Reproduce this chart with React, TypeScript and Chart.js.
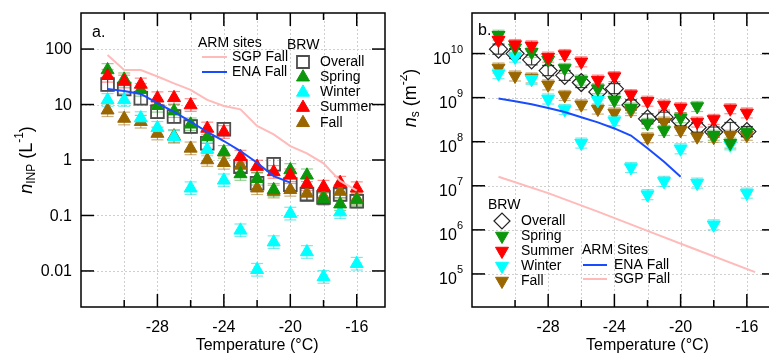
import React, { useEffect, useRef } from 'react';
import { Chart, registerables } from 'chart.js';
import { drawPoint } from 'chart.js/helpers';

Chart.register(...registerables);

// ---------- shared ----------
const TEMPS = [-31, -30, -29, -28, -27, -26, -25, -24, -23, -22, -21, -20, -19, -18, -17, -16];
const X_TICKS = [-28, -24, -20, -16];
const X_MINOR = [-30, -26, -22, -18];
const X_GRID = [-30, -28, -26, -24, -22, -20, -18, -16];

// ---------- panel a: n_INP (L^-1) ----------
const A_OVERALL = [23, 19, 13, 7.4, 6.1, 4.0, 2.0, 3.6, 0.76, 0.38, 0.84, 0.36, 0.24, 0.21, 0.24, 0.18];
const A_SPRING = [42, 28.5, 18.4, 9.5, 7.6, 4.4, 2.6, 1.4, 0.56, 0.46, 0.29, 0.66, 0.53, 0.2, 0.16, 0.19];
const A_SUMMER = [33, 26, 23, 13, 13.2, 9.8, 3.7, 3.2, 1.15, 0.76, 0.61, 0.53, 0.37, 0.33, 0.39, 0.31];
const A_WINTER = [12.1, 12.1, 5.7, 3.8, 2.6, 0.31, 1.55, 0.43, 0.054, 0.0105, 0.033, 0.108, 0.022, 0.0078, 0.115, 0.0135];
const A_FALL = [7.9, 5.6, 4.9, 3.0, 2.7, 1.62, 1.0, 0.89, 0.8, 0.31, 0.27, 0.29, 0.25, 0.22, 0.27, 0.2];
const A_ENA_TEMPS = [-31, -30, -29, -28, -27, -26, -25, -24, -23, -22, -21, -20];
const A_ENA = [19.1, 17.6, 15.5, 10.6, 7.4, 4.9, 3.2, 2.2, 1.45, 0.89, 0.51, 0.39];
const A_SGP = [78, 42, 42, 32, 24, 18.4, 12.1, 9.4, 8.2, 4.1, 2.9, 1.78, 1.32, 0.87, 0.42, 0.28];
const A_Y_TICKS = [0.01, 0.1, 1, 10, 100];
const A_Y_LABELS = ['0.01', '0.1', '1', '10', '100'];

// ---------- panel b: n_s (m^-2) ----------
const B_OVERALL = [1.26e10, 1.0e10, 7.2e9, 4.1e9, 3.2e9, 2.2e9, 1.35e9, 1.6e9, 6.8e8, 3.3e8, 3.6e8, 2.95e8, 2.1e8, 1.66e8, 2.1e8, 1.7e8];
const B_SPRING = [2.6e10, 1.35e10, 1.07e10, 7.1e9, 4.6e9, 2.5e9, 1.6e9, 8.7e8, 5.8e8, 2.6e8, 1.8e8, 3.5e8, 6.3e8, 1.4e8, 9.3e7, 1.66e8];
const B_SUMMER = [2.0e10, 1.6e10, 1.5e10, 8.3e9, 9.5e9, 6.5e9, 2.5e9, 3.0e9, 1.17e9, 8.3e8, 6.8e8, 5.9e8, 2.8e8, 3.2e8, 5.6e8, 4.5e8];
const B_WINTER = [3.5e9, 8.3e9, 2.6e9, 9.3e8, 5.4e8, 9.3e7, 8.7e8, 3.0e8, 2.6e7, 6.3e6, 1.26e7, 6.9e7, 1.15e7, 1.3e6, 8.5e7, 6.8e6];
const B_FALL = [4.7e9, 3.1e9, 2.8e9, 1.95e9, 1.12e9, 6.9e8, 5.5e8, 4.5e8, 5.1e8, 1.23e8, 2.8e8, 1.8e8, 1.3e8, 1.26e8, 1.4e8, 1.4e8];
const B_ENA_TEMPS = [-31, -30, -29, -28, -27, -26, -25, -24, -23, -22, -21, -20];
const B_ENA = [9.5e8, 8.3e8, 7.1e8, 5.8e8, 4.7e8, 3.6e8, 2.75e8, 2.0e8, 1.38e8, 7.1e7, 3.5e7, 1.6e7];
const B_SGP_TEMPS = [-31, -28, -25, -22, -19, -15.5];
const B_SGP = [1.6e7, 6.8e6, 2.6e6, 9.5e5, 3.5e5, 1.1e5];
const B_Y_TICKS = [1e5, 1e6, 1e7, 1e8, 1e9, 1e10];
const B_Y_EXP = ['5', '6', '7', '8', '9', '10'];

// ---------- style ----------
const FONT = '"Liberation Sans", Arial, Helvetica, sans-serif';
const C_SPRING = '#0b960b';
const C_SUMMER = '#ff0000';
const C_WINTER = '#00ffff';
const C_FALL = '#9a6600';
const C_OVERALL = '#4d4d4d';
const C_DIAMOND = '#222222';
const C_ENA = '#1a4cff';
const C_SGP = '#ffbaba';
const ERR = 1.3;

type Part = { t: string; s: number; dy?: number; it?: boolean };

function setFont(ctx: CanvasRenderingContext2D, p: Part) {
  ctx.font = `${p.it ? 'italic ' : ''}${p.s}px ${FONT}`;
}
function rich(ctx: CanvasRenderingContext2D, parts: Part[], x: number, y: number, align: 'left' | 'right' | 'center') {
  let w = 0;
  for (const p of parts) { setFont(ctx, p); w += ctx.measureText(p.t).width; }
  let cx = align === 'left' ? x : align === 'right' ? x - w : x - w / 2;
  ctx.textAlign = 'left';
  ctx.textBaseline = 'middle';
  for (const p of parts) {
    setFont(ctx, p);
    ctx.fillText(p.t, cx, y + (p.dy || 0));
    cx += ctx.measureText(p.t).width;
  }
}
function text(ctx: CanvasRenderingContext2D, t: string, x: number, y: number, size: number, align: CanvasTextAlign = 'left') {
  ctx.font = `${size}px ${FONT}`;
  ctx.textAlign = align;
  ctx.textBaseline = 'middle';
  ctx.fillStyle = '#000';
  ctx.fillText(t, x, y);
}
function seg(ctx: CanvasRenderingContext2D, x1: number, y1: number, x2: number, y2: number) {
  ctx.beginPath(); ctx.moveTo(x1, y1); ctx.lineTo(x2, y2); ctx.stroke();
}
function marker(ctx: CanvasRenderingContext2D, style: string, rot: number, r: number, fill: string, stroke: string, bw: number, x: number, y: number) {
  ctx.save();
  ctx.fillStyle = fill; ctx.strokeStyle = stroke; ctx.lineWidth = bw;
  drawPoint(ctx, { pointStyle: style as any, rotation: rot, radius: r, borderWidth: bw } as any, x, y);
  ctx.restore();
}

type LegendItem = { label: string; style: string; rot: number; r: number; fill: string; stroke: string; bw: number };

type Spec = {
  yTicks: number[];
  drawYLabel: (ctx: CanvasRenderingContext2D, i: number, x: number, y: number) => void;
  drawYTitle: (ctx: CanvasRenderingContext2D) => void;
  panel: { t: string; x: number; y: number };
  drawLegend: (ctx: CanvasRenderingContext2D) => void;
};

function decor(spec: Spec) {
  return {
    id: 'decor',
    beforeDatasetsDraw(chart: any) {
      const { ctx, chartArea: a, scales } = chart;
      const x = scales.x, y = scales.y;
      ctx.save();
      ctx.strokeStyle = '#cfcfcf';
      ctx.lineWidth = 1;
      ctx.setLineDash([2, 2]);
      for (const t of X_GRID) {
        const px = Math.round(x.getPixelForValue(t)) + 0.5;
        seg(ctx, px, a.top, px, a.bottom);
      }
      for (const t of spec.yTicks) {
        const py = Math.round(y.getPixelForValue(t)) + 0.5;
        seg(ctx, a.left, py, a.right, py);
      }
      ctx.setLineDash([]);
      // error bars
      chart.data.datasets.forEach((ds: any, i: number) => {
        if (!ds.errColor) return;
        const meta = chart.getDatasetMeta(i);
        ctx.strokeStyle = ds.errColor;
        ctx.lineWidth = 1.2;
        meta.data.forEach((el: any, j: number) => {
          const v = ds.data[j].y;
          if (v == null) return;
          const yHi = y.getPixelForValue(v * ERR);
          const yLo = y.getPixelForValue(v / ERR);
          seg(ctx, el.x, yHi, el.x, yLo);
          seg(ctx, el.x - 6, yHi, el.x + 6, yHi);
          seg(ctx, el.x - 6, yLo, el.x + 6, yLo);
        });
      });
      ctx.restore();
    },
    afterDraw(chart: any) {
      const { ctx, chartArea: a, scales } = chart;
      const x = scales.x, y = scales.y;
      ctx.save();
      ctx.strokeStyle = '#000';
      ctx.lineWidth = 1.5;
      ctx.strokeRect(a.left, a.top, a.right - a.left, a.bottom - a.top);
      ctx.lineWidth = 1.5;
      for (const t of X_TICKS) {
        const px = x.getPixelForValue(t);
        seg(ctx, px, a.bottom, px, a.bottom - 13);
        seg(ctx, px, a.top, px, a.top + 13);
        text(ctx, String(t), px, a.bottom + 21, 16, 'center');
      }
      for (const t of X_MINOR) {
        const px = x.getPixelForValue(t);
        seg(ctx, px, a.bottom, px, a.bottom - 7);
        seg(ctx, px, a.top, px, a.top + 7);
      }
      spec.yTicks.forEach((t, i) => {
        const py = y.getPixelForValue(t);
        seg(ctx, a.left, py, a.left + 13, py);
        seg(ctx, a.right, py, a.right - 13, py);
        ctx.fillStyle = '#000';
        spec.drawYLabel(ctx, i, a.left - 9, py);
      });
      text(ctx, 'Temperature (°C)', (x.getPixelForValue(-28) + x.getPixelForValue(-16)) / 2, 346, 16, 'center');
      ctx.fillStyle = '#000';
      spec.drawYTitle(ctx);
      text(ctx, spec.panel.t, spec.panel.x, spec.panel.y, 16, 'left');
      spec.drawLegend(ctx);
      ctx.restore();
    },
  };
}

function scatterSet(label: string, temps: number[], vals: number[], style: string, rot: number, r: number, fill: string, stroke: string, bw: number, errColor: string) {
  return {
    type: 'scatter',
    label,
    data: temps.map((t, i) => ({ x: t, y: vals[i] })),
    pointStyle: style,
    pointRotation: rot,
    pointRadius: r,
    pointBackgroundColor: fill,
    pointBorderColor: stroke,
    pointBorderWidth: bw,
    showLine: false,
    errColor,
  };
}
function lineSet(label: string, temps: number[], vals: number[], color: string) {
  return {
    type: 'scatter',
    label,
    data: temps.map((t, i) => ({ x: t, y: vals[i] })),
    showLine: true,
    pointRadius: 0,
    borderColor: color,
    borderWidth: 2,
    tension: 0,
  };
}

function baseOptions(yMin: number, yMax: number, yWidth: number, padRight: number) {
  return {
    responsive: false,
    animation: false,
    devicePixelRatio: 1,
    layout: { padding: { left: 0, right: padRight, top: 13, bottom: 0 } },
    plugins: { legend: { display: false }, tooltip: { enabled: false } },
    scales: {
      x: {
        type: 'linear', min: -32.6, max: -14.3,
        grid: { display: false }, border: { display: false }, ticks: { display: false },
        afterFit: (s: any) => { s.height = 48; },
      },
      y: {
        type: 'logarithmic', min: yMin, max: yMax,
        grid: { display: false }, border: { display: false }, ticks: { display: false },
        afterFit: (s: any) => { s.width = yWidth; },
      },
    },
  };
}

function legendBlock(ctx: CanvasRenderingContext2D, items: LegendItem[], mx: number, tx: number, y0: number, dy: number) {
  items.forEach((it, i) => {
    const yy = y0 + i * dy;
    marker(ctx, it.style, it.rot, it.r, it.fill, it.stroke, it.bw, mx, yy);
    text(ctx, it.label, tx, yy, 14, 'left');
  });
}
function lineKey(ctx: CanvasRenderingContext2D, color: string, x1: number, x2: number, y: number) {
  ctx.save(); ctx.strokeStyle = color; ctx.lineWidth = 2; seg(ctx, x1, y, x2, y); ctx.restore();
}

function configA(): any {
  const tri = (c: string) => ({ style: 'triangle', rot: 0, r: 7.5, fill: c, stroke: c, bw: 1 });
  const spec: Spec = {
    yTicks: A_Y_TICKS,
    drawYLabel: (ctx, i, x, y) => text(ctx, A_Y_LABELS[i], x, y + 1, 16, 'right'),
    drawYTitle: (ctx) => {
      ctx.save(); ctx.translate(27, 160); ctx.rotate(-Math.PI / 2);
      rich(ctx, [
        { t: 'n', s: 18, it: true }, { t: 'INP', s: 12, dy: 5 }, { t: ' (L', s: 18 },
        { t: '-1', s: 12, dy: -7 }, { t: ')', s: 18 },
      ], 0, 0, 'center');
      ctx.restore();
    },
    panel: { t: 'a.', x: 92, y: 33 },
    drawLegend: (ctx) => {
      text(ctx, 'ARM sites', 198, 43, 14);
      lineKey(ctx, C_SGP, 202, 227, 57); text(ctx, 'SGP Fall', 232, 57, 14);
      lineKey(ctx, C_ENA, 202, 227, 72); text(ctx, 'ENA Fall', 232, 72, 14);
      text(ctx, 'BRW', 287, 45, 14);
      legendBlock(ctx, [
        { label: 'Overall', style: 'rect', rot: 0, r: 8.5, fill: 'rgba(0,0,0,0)', stroke: C_OVERALL, bw: 1.8 },
        { label: 'Spring', ...tri(C_SPRING) },
        { label: 'Winter', ...tri(C_WINTER) },
        { label: 'Summer', ...tri(C_SUMMER) },
        { label: 'Fall', ...tri(C_FALL) },
      ], 303, 320, 62, 15.2);
    },
  };
  return {
    type: 'scatter',
    data: {
      datasets: [
        lineSet('ENA Fall', A_ENA_TEMPS, A_ENA, C_ENA),
        lineSet('SGP Fall', TEMPS, A_SGP, C_SGP),
        scatterSet('Summer', TEMPS, A_SUMMER, 'triangle', 0, 7.5, C_SUMMER, C_SUMMER, 1, 'rgba(255,0,0,0.45)'),
        scatterSet('Spring', TEMPS, A_SPRING, 'triangle', 0, 7.5, C_SPRING, C_SPRING, 1, 'rgba(11,150,11,0.45)'),
        scatterSet('Winter', TEMPS, A_WINTER, 'triangle', 0, 7.5, C_WINTER, C_WINTER, 1, 'rgba(0,220,220,0.55)'),
        scatterSet('Fall', TEMPS, A_FALL, 'triangle', 0, 7.5, C_FALL, C_FALL, 1, 'rgba(154,102,0,0.5)'),
        scatterSet('Overall', TEMPS, A_OVERALL, 'rect', 0, 9, 'rgba(0,0,0,0)', C_OVERALL, 1.8, 'rgba(40,40,40,0.8)'),
      ],
    },
    options: baseOptions(Math.pow(10, -2.65), Math.pow(10, 2.65), 81, 15),
    plugins: [decor(spec)],
  };
}

function configB(): any {
  const tri = (c: string) => ({ style: 'triangle', rot: 180, r: 7.5, fill: c, stroke: c, bw: 1 });
  const spec: Spec = {
    yTicks: B_Y_TICKS,
    drawYLabel: (ctx, i, x, y) => rich(ctx, [{ t: '10', s: 16, dy: 6 }, { t: B_Y_EXP[i], s: 11, dy: -4 }], x, y, 'right'),
    drawYTitle: (ctx) => {
      ctx.save(); ctx.translate(11, 98); ctx.rotate(-Math.PI / 2);
      rich(ctx, [
        { t: 'n', s: 18, it: true }, { t: 's', s: 12, dy: 5 }, { t: ' (m', s: 18 },
        { t: '-2', s: 12, dy: -7 }, { t: ')', s: 18 },
      ], 0, 0, 'center');
      ctx.restore();
    },
    panel: { t: 'b.', x: 78, y: 31 },
    drawLegend: (ctx) => {
      text(ctx, 'BRW', 88, 205, 14);
      legendBlock(ctx, [
        { label: 'Overall', style: 'rectRot', rot: 0, r: 8, fill: 'rgba(0,0,0,0)', stroke: C_DIAMOND, bw: 1.2 },
        { label: 'Spring', ...tri(C_SPRING) },
        { label: 'Summer', ...tri(C_SUMMER) },
        { label: 'Winter', ...tri(C_WINTER) },
        { label: 'Fall', ...tri(C_FALL) },
      ], 102, 121, 221, 15);
      text(ctx, 'ARM Sites', 182, 250, 14);
      lineKey(ctx, C_ENA, 183, 207, 265); text(ctx, 'ENA Fall', 214, 265, 14);
      lineKey(ctx, C_SGP, 183, 207, 279); text(ctx, 'SGP Fall', 214, 279, 14);
    },
  };
  return {
    type: 'scatter',
    data: {
      datasets: [
        lineSet('ENA Fall', B_ENA_TEMPS, B_ENA, C_ENA),
        lineSet('SGP Fall', B_SGP_TEMPS, B_SGP, C_SGP),
        scatterSet('Summer', TEMPS, B_SUMMER, 'triangle', 180, 7.5, C_SUMMER, C_SUMMER, 1, 'rgba(255,0,0,0.45)'),
        scatterSet('Spring', TEMPS, B_SPRING, 'triangle', 180, 7.5, C_SPRING, C_SPRING, 1, 'rgba(11,150,11,0.45)'),
        scatterSet('Winter', TEMPS, B_WINTER, 'triangle', 180, 7.5, C_WINTER, C_WINTER, 1, 'rgba(0,220,220,0.55)'),
        scatterSet('Fall', TEMPS, B_FALL, 'triangle', 180, 7.5, C_FALL, C_FALL, 1, 'rgba(154,102,0,0.5)'),
        scatterSet('Overall', TEMPS, B_OVERALL, 'rectRot', 0, 9, 'rgba(0,0,0,0)', C_DIAMOND, 1.2, 'rgba(30,30,30,0.85)'),
      ],
    },
    options: baseOptions(Math.pow(10, 4.25), Math.pow(10, 10.92), 72, 15),
    plugins: [decor(spec)],
  };
}

export default function App() {
  const refA = useRef<HTMLCanvasElement>(null);
  const refB = useRef<HTMLCanvasElement>(null);
  useEffect(() => {
    const ca = new Chart(refA.current as HTMLCanvasElement, configA());
    const cb = new Chart(refB.current as HTMLCanvasElement, configB());
    return () => { ca.destroy(); cb.destroy(); };
  }, []);
  return (
    <div style={{ position: 'fixed', left: 0, top: 0, width: 769, height: 355, overflow: 'hidden', background: '#fff' }}>
      <canvas ref={refA} width={400} height={355} style={{ position: 'absolute', left: 0, top: 0, width: 400, height: 355 }} />
      <canvas ref={refB} width={390} height={355} style={{ position: 'absolute', left: 400, top: 0, width: 390, height: 355 }} />
    </div>
  );
}
